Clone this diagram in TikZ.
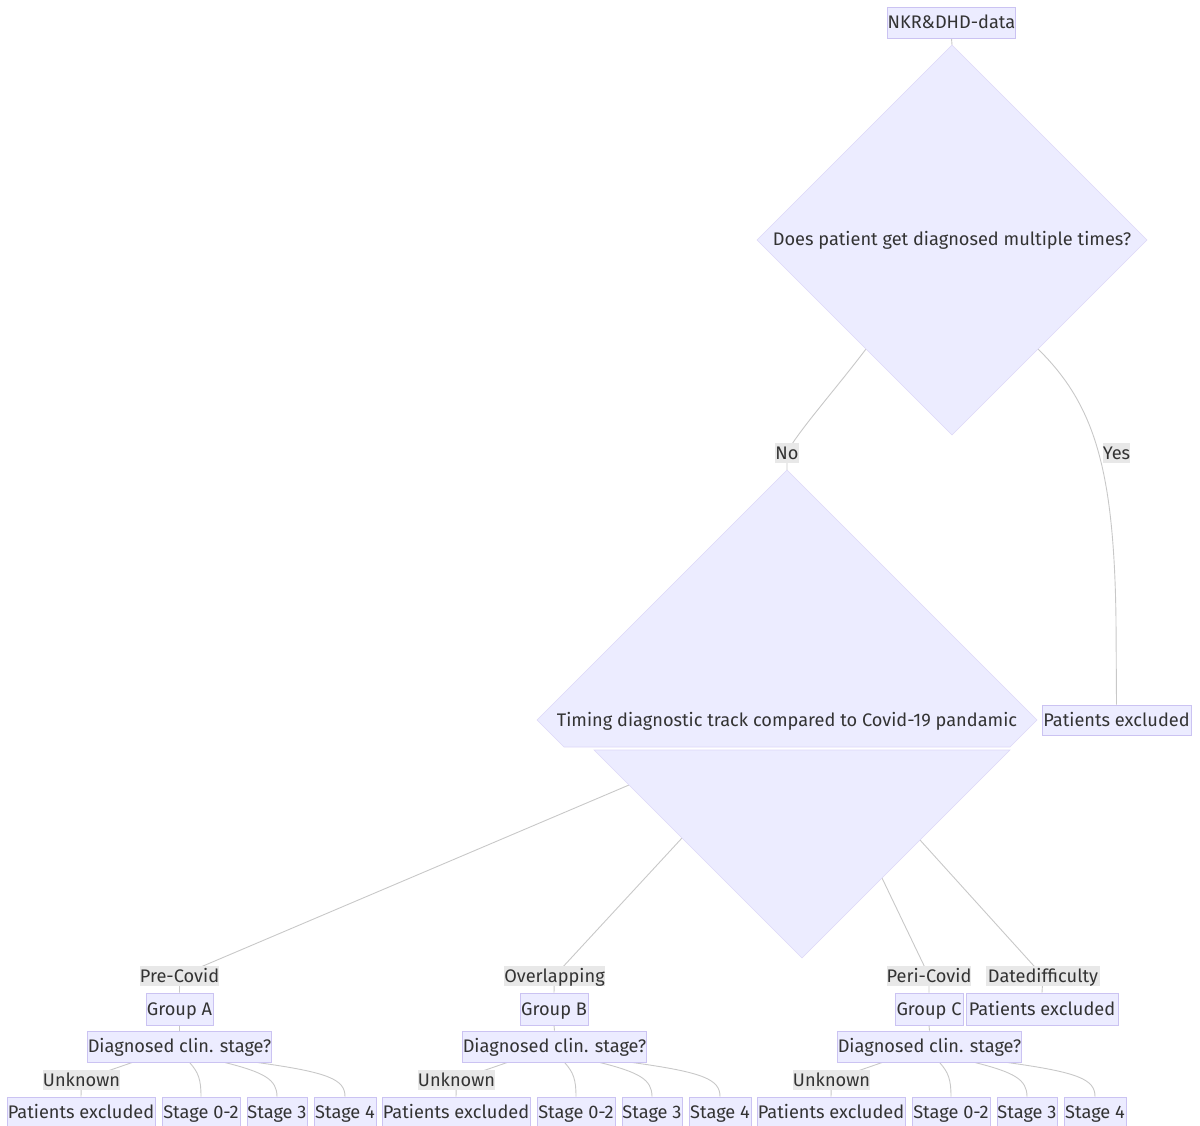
\documentclass[tikz,border=0pt]{standalone}
\usepackage{fontspec}
\setmainfont{Fira Sans}
\usetikzlibrary{calc}
\pgfdeclarelayer{bg}
\pgfsetlayers{bg,main}
\definecolor{boxfill}{HTML}{ECECFF}
\definecolor{boxline}{HTML}{CBC3F2}
\definecolor{decline}{HTML}{DDD8F8}
\definecolor{lblfill}{HTML}{E8E8E8}
\definecolor{txt}{HTML}{333333}
\definecolor{edge}{HTML}{C8C8C8}

\begin{document}
\begin{tikzpicture}[x=1pt,y=-1pt,
  font=\fontsize{18.2}{21}\selectfont, text=txt,
  every node/.style={text height=14pt, text depth=2pt},
  box/.style={draw=boxline, fill=boxfill, line width=0.8pt, inner sep=0pt, minimum height=31pt},
  lbl/.style={fill=lblfill, inner sep=0pt, minimum height=20pt},
  link/.style={draw=edge, line width=0.9pt},
  decision/.style={fill=boxfill, draw=decline, line width=0.6pt}]

\useasboundingbox (0,0) rectangle (1200,1126);

% first decision
\node[box, minimum width=127pt] (nkr) at (951.5,22.5) {NKR\&DHD-data};
\draw[decision] (952,45) -- (1147,240) -- (952,435) -- (757,240) -- cycle;
\node (q1) at (952,240) {Does patient get diagnosed multiple times?};
\coordinate (q1top) at (952,45);
\coordinate (q1sw) at (866,349);
\coordinate (q1se) at (1038,349);

\node[lbl, minimum width=22pt] (no) at (787,453) {No};
\node[lbl, minimum width=27pt] (yes) at (1116.5,453) {Yes};
\node[box, minimum width=149pt, minimum height=30pt] (pe1) at (1116.5,720) {Patients excluded};

% second decision
\draw[decision] (787,470) -- (1037,720) -- (1010,747) -- (564,747) -- (537,720) -- cycle;
\draw[decision] (594,750) -- (1010,750) -- (802,958) -- cycle;
\node (q2) at (787,720) {Timing diagnostic track compared to Covid-19 pandamic};
\coordinate (q2top) at (787,470);
\coordinate (q2a) at (629,785);
\coordinate (q2b) at (682,838);
\coordinate (q2c) at (882,878);
\coordinate (q2d) at (920,840);

% branches
\node[lbl, minimum width=79pt] (pre) at (179.5,976) {Pre-Covid};
\node[lbl, minimum width=99pt] (ovl) at (554.5,976) {Overlapping};
\node[lbl, minimum width=84pt] (peri) at (929,976) {Peri-Covid};
\node[lbl, minimum width=114pt] (date) at (1043,976) {Datedifficulty};

\node[box, minimum width=67pt, minimum height=32pt] (gA) at (179.5,1009) {Group A};
\node[box, minimum width=68pt, minimum height=32pt] (gB) at (554,1009) {Group B};
\node[box, minimum width=68pt, minimum height=32pt] (gC) at (929,1009) {Group C};
\node[box, minimum width=152pt, minimum height=32pt] (pe2) at (1042,1009) {Patients excluded};

\foreach \g/\o in {A/0,B/375,C/750}{
  \node[box, minimum width=183pt] (d\g) at (179.5+\o,1046.5) {Diagnosed clin. stage?};
  \node[lbl, minimum width=73pt] (unk\g) at (81.5+\o,1080) {Unknown};
  \node[box, minimum width=148pt] (p\g) at (81+\o,1112.5) {Patients excluded};
  \node[box, minimum width=78pt] (s02\g) at (201+\o,1112.5) {Stage 0-2};
  \node[box, minimum width=60pt] (s3\g) at (277+\o,1112.5) {Stage 3};
  \node[box, minimum width=62pt] (s4\g) at (345+\o,1112.5) {Stage 4};
}

\begin{pgfonlayer}{bg}
  \draw[link] (nkr.south) -- (q1top);
  \draw[link] (q1sw) .. controls (835,390) and (795,435) .. (no.center) -- (q2top);
  \draw[link] (q1se) .. controls (1095,405) and (1114,470) .. (1116,620) -- (pe1.north);
  \draw[link] (q2a) -- (pre.center) -- (gA.north);
  \draw[link] (q2b) -- (ovl.center) -- (gB.north);
  \draw[link] (q2c) -- (peri.center) -- (gC.north);
  \draw[link] (q2d) -- (date.center) -- (pe2.north);
  \foreach \g in {A,B,C}{
    \draw[link] (g\g.south) -- (d\g.north);
    \draw[link] ($(d\g.south)+(-47,0)$) -- (unk\g.center) -- (p\g.north);
    \draw[link] ($(d\g.south)+(10,0)$) .. controls +(9,10) and +(0,-17) .. (s02\g.north);
    \draw[link] ($(d\g.south)+(45,0)$) .. controls +(40,10) and +(0,-17) .. (s3\g.north);
    \draw[link] ($(d\g.south)+(77,0)$) .. controls +(73,10) and +(0,-17) .. (s4\g.north);
  }
\end{pgfonlayer}
\end{tikzpicture}
\end{document}
